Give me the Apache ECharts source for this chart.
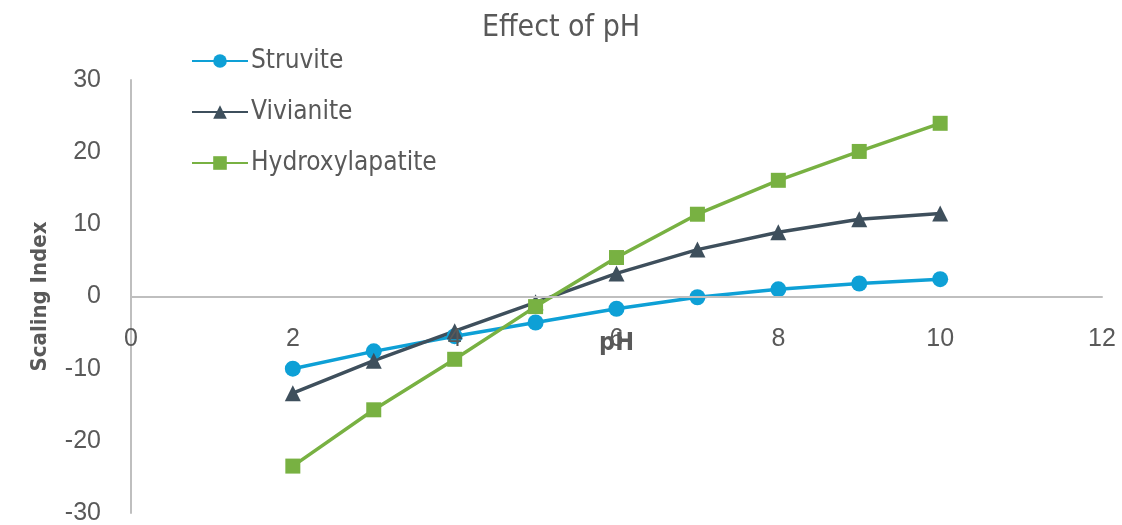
<!DOCTYPE html>
<html><head><meta charset="utf-8">
<script src="https://cdn.jsdelivr.net/npm/echarts@6/dist/echarts.min.js"></script>
<style>html,body{margin:0;padding:0;background:#fff}#c{width:1122px;height:525px}</style>
</head><body><div id="c"></div>
<script>
const phValues = [2, 3, 4, 5, 6, 7, 8, 9, 10];
const struvite = [-10.0, -7.6, -5.5, -3.6, -1.7, -0.1, 1.0, 1.8, 2.4];
const vivianite = [-13.4, -8.9, -4.8, -0.8, 3.2, 6.5, 8.9, 10.7, 11.5];
const hydroxylapatite = [-23.5, -15.7, -8.7, -1.4, 5.4, 11.4, 16.1, 20.1, 24.0];
const seriesNames = ['Struvite', 'Vivianite', 'Hydroxylapatite'];

const narrow = '"DejaVu Sans Condensed", "Liberation Sans Narrow", sans-serif';
const txt = '#595959';
const pair = (ys) => phValues.map((x, i) => [x, ys[i]]);

const chart = echarts.init(document.getElementById('c'));
chart.setOption({
  animation: false,
  title: {
    text: 'Effect of pH', left: 'center', top: 8,
    textStyle: { fontFamily: narrow, fontSize: 30, fontWeight: 'normal', color: txt }
  },
  legend: {
    orient: 'vertical', left: 186, top: 43, itemGap: 25,
    itemWidth: 56, itemHeight: 17,
    textStyle: { fontFamily: narrow, fontSize: 26, color: txt, padding: [0, 0, 0, -2] },
    data: seriesNames
  },
  grid: { left: 131, right: 20, top: 80, bottom: 12, outerBoundsMode: 'none', containLabel: false },
  xAxis: {
    type: 'value', min: 0, max: 12, interval: 2, z: 5,
    position: 'bottom', offset: -216.5,
    name: 'pH', nameLocation: 'middle', nameGap: 34, nameMoveOverlap: false,
    nameTextStyle: { fontFamily: narrow, fontSize: 25, fontWeight: 'bold', color: txt },
    axisLine: { onZero: false, lineStyle: { color: '#bfbfbf', width: 2 } },
    axisTick: { show: false },
    splitLine: { show: false },
    axisLabel: { fontFamily: '"Liberation Sans", sans-serif', fontSize: 25, color: txt, margin: 30 }
  },
  yAxis: {
    type: 'value', min: -30, max: 30, interval: 10,
    name: 'Scaling Index', nameLocation: 'middle', nameGap: 80, nameMoveOverlap: false,
    nameTextStyle: { fontFamily: narrow, fontSize: 22, fontWeight: 'bold', color: txt },
    axisLine: { show: true, lineStyle: { color: '#bfbfbf', width: 2 } },
    axisTick: { show: false },
    splitLine: { show: false },
    axisLabel: { fontFamily: '"Liberation Sans", sans-serif', fontSize: 25, color: txt, margin: 30 }
  },
  series: [
    { name: seriesNames[0], type: 'line', data: pair(struvite), symbol: 'circle', symbolSize: 16,
      itemStyle: { color: '#0EA0D6' }, lineStyle: { width: 3.5, color: '#0EA0D6' } },
    { name: seriesNames[1], type: 'line', data: pair(vivianite), symbol: 'triangle', symbolSize: 16,
      itemStyle: { color: '#3E4F5C' }, lineStyle: { width: 3.5, color: '#3E4F5C' } },
    { name: seriesNames[2], type: 'line', data: pair(hydroxylapatite), symbol: 'rect', symbolSize: 15,
      itemStyle: { color: '#78B142' }, lineStyle: { width: 3.5, color: '#78B142' } }
  ]
});
</script></body></html>
